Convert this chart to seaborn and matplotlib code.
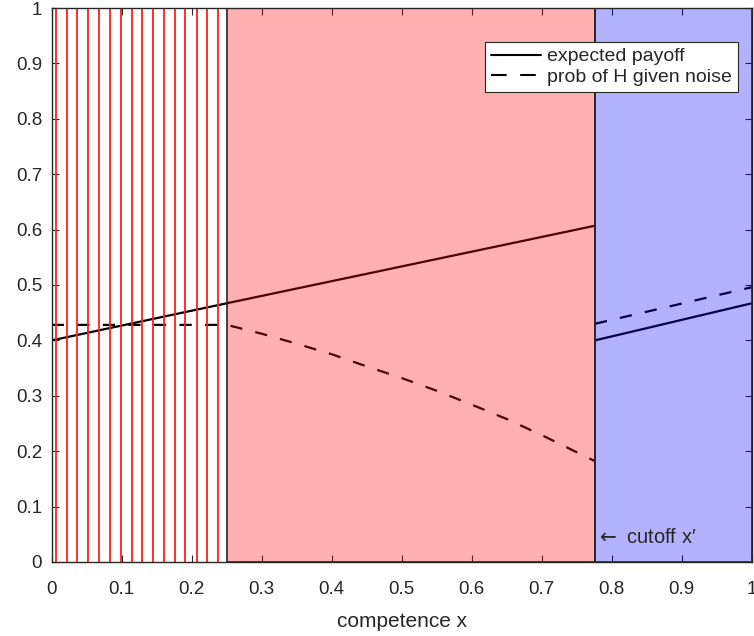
import matplotlib
matplotlib.use('Agg')
import matplotlib.pyplot as plt
import pandas as pd
import seaborn as sns
from matplotlib.lines import Line2D

# valores
cutoff = 0.776
zona_vermelha = 0.25

# linhas verticais vermelhas (amostras)
amostras_x = [0.006, 0.022, 0.036, 0.052, 0.068, 0.083, 0.099, 0.115,
              0.129, 0.145, 0.160, 0.176, 0.191, 0.207, 0.222, 0.237]

# expected payoff
payoff_esq_x = [0.0, 0.25, 0.776]
payoff_esq_y = [0.400, 0.467, 0.607]
payoff_dir_x = [0.776, 1.0]
payoff_dir_y = [0.400, 0.467]

# prob of H given noise
prob_esq_x = [0.0, 0.25, 0.30, 0.35, 0.40, 0.45, 0.50, 0.55, 0.60, 0.65, 0.70, 0.75, 0.776]
prob_esq_y = [0.428, 0.428, 0.412, 0.394, 0.375, 0.353, 0.332, 0.309, 0.284, 0.258, 0.229, 0.198, 0.182]
prob_dir_x = [0.776, 1.0]
prob_dir_y = [0.430, 0.496]

ticks = [i / 10 for i in range(11)]
tick_labels = ['0', '0.1', '0.2', '0.3', '0.4', '0.5', '0.6', '0.7', '0.8', '0.9', '1']

sns.set_style('ticks')
plt.rcParams['font.family'] = ['Liberation Sans', 'DejaVu Sans']

fig = plt.figure(figsize=(7.54, 6.36), dpi=100)
ax = fig.add_axes([0.0686, 0.1164, 0.9285, 0.871])

cinza = '#262626'
tracejado = (5.5, 6)

sns.lineplot(x=payoff_esq_x, y=payoff_esq_y, color='black', lw=1.6, ax=ax, zorder=1)
sns.lineplot(x=payoff_dir_x, y=payoff_dir_y, color='black', lw=1.6, ax=ax, zorder=1)
sns.lineplot(x=prob_esq_x, y=prob_esq_y, color='black', lw=1.6, ax=ax, zorder=1,
             dashes=False).lines[-1].set_dashes(tracejado)
sns.lineplot(x=prob_dir_x, y=prob_dir_y, color='black', lw=1.6, ax=ax, zorder=1,
             dashes=False).lines[-1].set_dashes(tracejado)

# regioes coloridas por cima das linhas
ax.axvspan(zona_vermelha, cutoff, facecolor=(1, 0, 0, 0.31), edgecolor=cinza, lw=1.2, zorder=2)
ax.axvspan(cutoff, 1.0, facecolor=(0, 0, 1, 0.30), edgecolor=cinza, lw=1.2, zorder=2)

for xv in amostras_x:
    ax.axvline(xv, color='#ff2020', lw=1.3, zorder=3)

ax.text(cutoff + 0.002, 0.045, r'$\leftarrow$ cutoff x' + '\u2032', fontsize=14.5, color=cinza,
        va='center', ha='left', zorder=4)

ax.set_xlim(0, 1)
ax.set_ylim(0, 1)
ax.set_xticks(ticks)
ax.set_yticks(ticks)
ax.set_xticklabels(tick_labels)
ax.set_yticklabels(tick_labels)
ax.tick_params(direction='in', top=True, right=True, length=5, width=0.8,
               colors=cinza, labelsize=13.5)
ax.tick_params(axis='x', pad=14)
ax.tick_params(axis='y', pad=7)
for s in ax.spines.values():
    s.set_visible(True)
    s.set_color(cinza)
    s.set_linewidth(1.0)
    s.set_zorder(5)
ax.set_xlabel('competence x', fontsize=15, color=cinza, labelpad=10)
ax.set_ylabel('')

handles = [Line2D([0], [0], color='black', lw=1.5),
           Line2D([0], [0], color='black', lw=1.5, dashes=(7.5, 6.5))]
leg = ax.legend(handles, ['expected payoff', 'prob of H given noise'],
                loc='upper right', bbox_to_anchor=(0.980, 0.9386), fontsize=14,
                handlelength=2.6, fancybox=False, framealpha=1, edgecolor=cinza,
                borderaxespad=0, borderpad=0.3, labelspacing=0.15, handletextpad=0.3)
leg.get_frame().set_linewidth(0.8)
leg.set_zorder(6)

fig.savefig('out.png', dpi=100)
